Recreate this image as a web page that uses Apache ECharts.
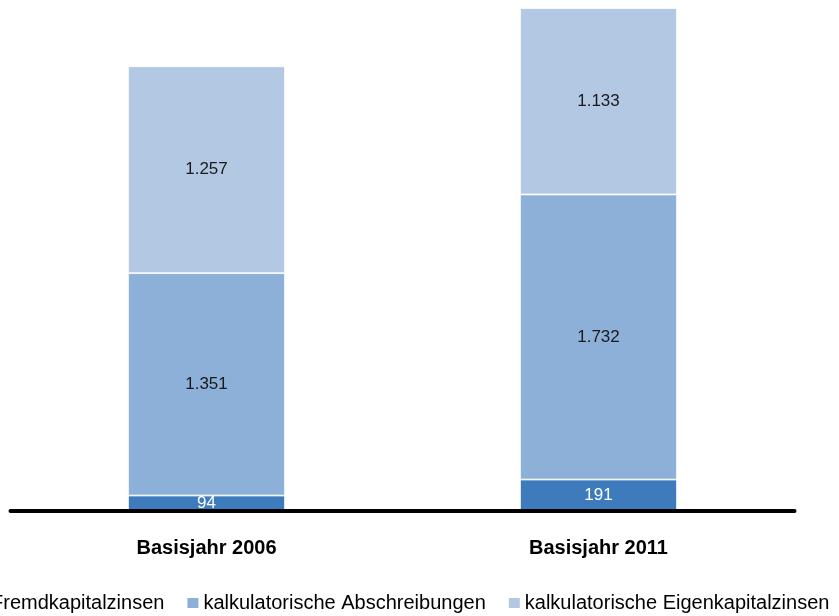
<!DOCTYPE html>
<html>
<head>
<meta charset="utf-8">
<script src="https://cdn.jsdelivr.net/npm/echarts@6/dist/echarts.min.js"></script>
<style>html,body{margin:0;padding:0;background:#fff}#c{width:839px;height:616px}</style>
</head>
<body>
<div id="c"></div>
<script>
const categories = ['Basisjahr 2006', 'Basisjahr 2011'];
const seriesNames = ['Fremdkapitalzinsen', 'kalkulatorische Abschreibungen', 'kalkulatorische Eigenkapitalzinsen'];
const fremdkapitalzinsen = [94, 191];
const abschreibungen = [1351, 1732];
const eigenkapitalzinsen = [1257, 1133];
const colors = ['#3d7bbd', '#8cb0d8', '#b3c8e3'];
const labelColors = ['#ffffff', '#1a1a1a', '#1a1a1a'];
const seriesData = [fremdkapitalzinsen, abschreibungen, eigenkapitalzinsen];

const fmt = v => v >= 1000 ? Math.floor(v / 1000) + '.' + String(v % 1000).padStart(3, '0') : String(v);
const font = '"Liberation Sans", Arial, sans-serif';

const chart = echarts.init(document.getElementById('c'), null, {renderer: 'canvas'});
chart.setOption({
  animation: false,
  grid: {left: 10.5, right: 44.5, top: 8, bottom: 105, containLabel: false},
  legend: {
    data: seriesNames,
    top: 593,
    left: -25,
    padding: 0,
    width: 1000,
    icon: 'rect',
    itemWidth: 11,
    itemHeight: 10,
    itemGap: 23,
    itemStyle: {borderWidth: 0},
    textStyle: {fontFamily: font, fontSize: 20, color: '#000'}
  },
  xAxis: {
    type: 'category',
    data: categories,
    z: 10,
    axisLine: {lineStyle: {color: '#000', width: 4}},
    axisTick: {show: false},
    axisLabel: {fontFamily: font, fontSize: 20, fontWeight: 'bold', color: '#000', margin: 27}
  },
  yAxis: {
    type: 'value', min: 0, max: 'dataMax', show: false,
    splitLine: {show: false}
  },
  series: seriesNames.map((name, i) => ({
    name: name,
    type: 'bar',
    stack: 'total',
    barWidth: 157,
    data: seriesData[i],
    itemStyle: {color: colors[i], borderColor: '#fff', borderWidth: 0.8},
    label: {
      show: true, position: 'inside',
      fontFamily: font, fontSize: 17, color: labelColors[i],
      formatter: p => fmt(p.value)
    }
  }))
});
</script>
</body>
</html>
